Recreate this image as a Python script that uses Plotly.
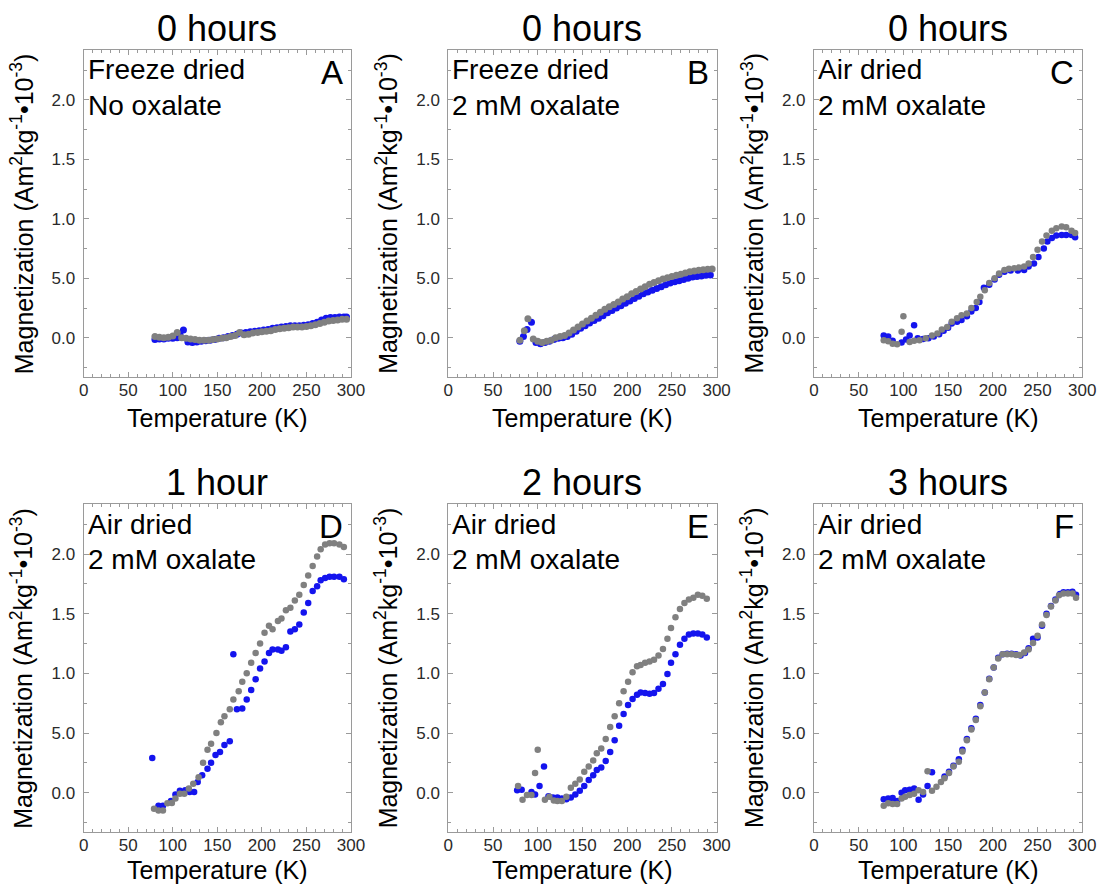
import plotly.graph_objects as go

# ---- data: temperature (K) and magnetization (x10^-3 Am^2/kg) per panel ----
# Panel A: freeze dried, no oxalate, 0 hours
a_gray_t = [80, 85, 90, 95, 100, 105, 110, 115, 120, 125, 130, 135, 140, 145, 150, 155, 160, 165,
            170, 175, 180, 185, 190, 195, 200, 205, 210, 215, 220, 225, 230, 235, 240, 245, 250,
            255, 260, 265, 270, 275, 280, 285, 290, 295]
a_gray_m = [0.01, 0.005, 0.0, 0.005, 0.015, 0.045, 0.0, -0.005, -0.01, -0.015, -0.02, -0.02, -0.02,
            -0.015, -0.01, -0.005, 0.0, 0.01, 0.02, 0.045, 0.025, 0.03, 0.04, 0.045, 0.05, 0.055,
            0.06, 0.07, 0.075, 0.08, 0.085, 0.09, 0.09, 0.09, 0.095, 0.10, 0.11, 0.12, 0.13, 0.14,
            0.145, 0.15, 0.155, 0.155]
a_blue_t = [80, 85, 90, 95, 100, 105, 108, 112, 117, 122, 127, 132, 137, 142, 147, 152, 157, 162,
            167, 172, 177, 182, 187, 192, 197, 202, 207, 212, 217, 222, 227, 232, 237, 242, 247,
            252, 257, 262, 267, 272, 277, 282, 287, 292, 295]
a_blue_m = [-0.015, -0.01, -0.01, -0.005, -0.005, 0.0, 0.03, 0.065, -0.035, -0.04, -0.035, -0.03,
            -0.025, -0.02, -0.015, -0.005, 0.0, 0.01, 0.02, 0.03, 0.04, 0.045, 0.05, 0.055, 0.06,
            0.065, 0.07, 0.08, 0.085, 0.09, 0.095, 0.1, 0.1, 0.1, 0.105, 0.11, 0.12, 0.13, 0.15,
            0.165, 0.17, 0.17, 0.175, 0.175, 0.175]

# Panel B: freeze dried, 2 mM oxalate, 0 hours
b_gray_t = [80, 85, 89, 95, 100, 105, 110, 115, 120, 125, 130, 135, 140, 145, 150, 155, 160, 165,
            170, 175, 180, 185, 190, 195, 200, 205, 210, 215, 220, 225, 230, 235, 240, 245, 250,
            255, 260, 265, 270, 275, 280, 285, 290, 295]
b_gray_m = [-0.02, 0.06, 0.16, -0.01, -0.03, -0.04, -0.03, -0.02, 0.0, 0.01, 0.02, 0.04, 0.065,
            0.09, 0.115, 0.14, 0.165, 0.19, 0.215, 0.24, 0.26, 0.28, 0.30, 0.325, 0.345, 0.37, 0.39,
            0.41, 0.43, 0.45, 0.465, 0.48, 0.495, 0.505, 0.515, 0.525, 0.535, 0.545, 0.555, 0.562,
            0.568, 0.573, 0.576, 0.578]
b_blue_t = [80, 84, 88, 93, 98, 103, 108, 113, 118, 123, 128, 133, 138, 143, 148, 153, 158, 163,
            168, 173, 178, 183, 188, 193, 198, 203, 208, 213, 218, 223, 228, 233, 238, 243, 248,
            253, 258, 263, 268, 273, 278, 283, 288, 293]
b_blue_m = [-0.03, 0.01, 0.07, 0.13, -0.04, -0.05, -0.04, -0.03, -0.015, -0.005, 0.0, 0.01, 0.03,
            0.055, 0.08, 0.10, 0.125, 0.145, 0.165, 0.185, 0.21, 0.23, 0.25, 0.27, 0.29, 0.31, 0.33,
            0.35, 0.37, 0.385, 0.40, 0.415, 0.43, 0.445, 0.46, 0.47, 0.48, 0.49, 0.50, 0.51, 0.515,
            0.52, 0.525, 0.527]

# Panel C: air dried, 2 mM oxalate, 0 hours
c_gray_t = [78, 83, 88, 93, 98, 100, 107, 112, 118, 125, 132, 138, 143, 149, 154, 160, 165, 171,
            176, 182, 186, 191, 196, 202, 207, 213, 218, 224, 229, 235, 240, 245, 250, 255, 260,
            266, 271, 277, 282, 288, 292]
c_gray_m = [-0.02, -0.03, -0.05, -0.055, 0.05, 0.18, -0.035, -0.025, -0.02, -0.005, 0.02, 0.035,
            0.07, 0.09, 0.135, 0.165, 0.19, 0.205, 0.25, 0.30, 0.345, 0.40, 0.46, 0.50, 0.54, 0.57,
            0.58, 0.585, 0.59, 0.60, 0.625, 0.68, 0.74, 0.81, 0.86, 0.90, 0.92, 0.935, 0.93, 0.90,
            0.88]
c_blue_t = [78, 83, 88, 98, 103, 107, 112, 116, 122, 128, 134, 140, 145, 150, 154, 160, 165, 171,
            176, 181, 185, 190, 196, 202, 207, 213, 220, 228, 235, 240, 246, 251, 257, 261, 266,
            271, 277, 282, 288, 292]
c_blue_m = [0.02, 0.01, -0.025, -0.04, -0.015, 0.02, 0.105, -0.005, -0.01, -0.005, 0.01, 0.03,
            0.06, 0.085, 0.12, 0.135, 0.15, 0.18, 0.22, 0.25, 0.30, 0.42, 0.445, 0.49, 0.53, 0.555,
            0.565, 0.565, 0.57, 0.60, 0.625, 0.68, 0.75, 0.81, 0.84, 0.86, 0.865, 0.865, 0.865,
            0.845]

# Panel D: air dried, 2 mM oxalate, 1 hour
d_gray_t = [79, 84, 89, 94, 99, 103, 108, 113, 118, 123, 129, 134, 139, 143, 149, 154, 158, 164,
            168, 174, 178, 183, 188, 193, 198, 203, 208, 212, 218, 222, 227, 232, 237, 242, 247,
            252, 257, 262, 266, 271, 276, 281, 287, 292]
d_gray_m = [-0.135, -0.15, -0.15, -0.09, -0.087, -0.05, -0.01, -0.01, 0.035, 0.075, 0.13, 0.25,
            0.36, 0.41, 0.50, 0.59, 0.64, 0.70, 0.78, 0.85, 0.93, 1.00, 1.09, 1.17, 1.25, 1.34, 1.40,
            1.37, 1.44, 1.46, 1.53, 1.55, 1.61, 1.66, 1.74, 1.82, 1.90, 1.98, 2.04, 2.08, 2.09, 2.09,
            2.08, 2.06]
d_blue_t = [77, 84, 89, 98, 103, 108, 114, 119, 124, 128, 133, 139, 143, 148, 153, 158, 164, 168,
            172, 178, 183, 188, 193, 198, 203, 208, 212, 218, 222, 227, 232, 237, 242, 247, 252,
            257, 262, 266, 271, 276, 281, 287, 292]
d_blue_m = [0.29, -0.11, -0.11, -0.07, -0.015, 0.015, 0.02, 0.005, 0.005, 0.09, 0.145, 0.20, 0.25,
            0.315, 0.34, 0.40, 0.43, 1.16, 0.70, 0.705, 0.78, 0.86, 0.95, 1.04, 1.10, 1.17, 1.20,
            1.20, 1.19, 1.22, 1.35, 1.37, 1.41, 1.51, 1.59, 1.69, 1.73, 1.78, 1.80, 1.81, 1.81, 1.81,
            1.79]

# Panel E: air dried, 2 mM oxalate, 2 hours
e_gray_t = [78, 83, 88, 93, 97, 100, 108, 113, 118, 122, 127, 132, 137, 142, 147, 152, 157, 162,
            166, 171, 176, 181, 186, 191, 196, 201, 206, 211, 215, 220, 225, 230, 235, 240, 245,
            249, 254, 259, 264, 269, 274, 279, 284, 289]
e_gray_m = [0.055, -0.06, -0.02, -0.02, 0.165, 0.36, -0.06, -0.035, -0.065, -0.07, -0.07, -0.035,
            0.04, 0.075, 0.11, 0.175, 0.22, 0.27, 0.33, 0.37, 0.45, 0.55, 0.64, 0.75, 0.85, 0.93,
            1.01, 1.06, 1.07, 1.09, 1.10, 1.115, 1.15, 1.205, 1.29, 1.38, 1.47, 1.54, 1.59, 1.62,
            1.635, 1.66, 1.65, 1.625]
e_blue_t = [77, 82, 93, 97, 102, 107, 112, 117, 122, 127, 132, 137, 142, 147, 152, 157, 162, 166,
            171, 176, 181, 186, 191, 196, 201, 206, 211, 215, 220, 225, 230, 235, 240, 245, 249,
            254, 259, 264, 269, 274, 279, 284, 289]
e_blue_m = [0.02, 0.025, 0.005, -0.015, 0.055, 0.22, -0.03, -0.04, -0.04, -0.05, -0.055, -0.04,
            -0.015, 0.015, 0.055, 0.105, 0.145, 0.19, 0.21, 0.265, 0.34, 0.44, 0.56, 0.66, 0.735,
            0.785, 0.82, 0.84, 0.835, 0.83, 0.835, 0.87, 0.91, 0.995, 1.09, 1.16, 1.24, 1.29, 1.325,
            1.335, 1.335, 1.325, 1.30]

# Panel F: air dried, 2 mM oxalate, 3 hours
f_gray_t = [78, 83, 88, 93, 98, 102, 107, 112, 117, 122, 127, 132, 137, 142, 146, 151, 156, 162,
            166, 171, 176, 181, 186, 191, 196, 201, 206, 211, 216, 221, 226, 230, 235, 240, 245,
            250, 255, 260, 265, 270, 274, 279, 284, 289, 293]
f_gray_m = [-0.11, -0.09, -0.095, -0.095, -0.05, -0.035, -0.02, -0.01, 0.02, 0.005, 0.18, 0.015,
            0.05, 0.09, 0.12, 0.165, 0.22, 0.26, 0.345, 0.44, 0.53, 0.61, 0.725, 0.84, 0.95, 1.05,
            1.125, 1.16, 1.16, 1.16, 1.155, 1.155, 1.175, 1.20, 1.255, 1.315, 1.41, 1.49, 1.56, 1.61,
            1.655, 1.67, 1.67, 1.67, 1.635]
f_blue_t = [78, 83, 88, 93, 98, 102, 107, 112, 117, 122, 127, 132, 146, 151, 156, 162, 166, 171,
            176, 181, 186, 191, 196, 201, 206, 211, 216, 221, 226, 231, 236, 240, 245, 250, 255,
            260, 265, 270, 275, 279, 284, 289, 293]
f_blue_m = [-0.055, -0.05, -0.045, -0.07, 0.0, 0.02, 0.025, 0.035, -0.06, -0.015, 0.055, 0.17,
            0.135, 0.175, 0.225, 0.28, 0.36, 0.45, 0.54, 0.62, 0.735, 0.84, 0.955, 1.05, 1.13, 1.16,
            1.165, 1.165, 1.16, 1.15, 1.17, 1.21, 1.29, 1.30, 1.40, 1.50, 1.565, 1.62, 1.665, 1.68,
            1.68, 1.685, 1.66]

panel_titles = ["0 hours", "0 hours", "0 hours", "1 hour", "2 hours", "3 hours"]
panel_letters = ["A", "B", "C", "D", "E", "F"]
panel_labels = [("Freeze dried", "No oxalate"), ("Freeze dried", "2 mM oxalate"),
                ("Air dried", "2 mM oxalate"), ("Air dried", "2 mM oxalate"),
                ("Air dried", "2 mM oxalate"), ("Air dried", "2 mM oxalate")]
y_tick_vals = [0.0, 0.5, 1.0, 1.5, 2.0]
y_tick_text = ["0.0", "5.0", "1.0", "1.5", "2.0"]
x_tick_vals = [0, 50, 100, 150, 200, 250, 300]
x_title = "Temperature (K)"
y_title = "Magnetization (Am<sup>2</sup>kg<sup>-1</sup>•10<sup>-3</sup>)"

series = [
    (a_blue_t, a_blue_m, a_gray_t, a_gray_m),
    (b_blue_t, b_blue_m, b_gray_t, b_gray_m),
    (c_blue_t, c_blue_m, c_gray_t, c_gray_m),
    (d_blue_t, d_blue_m, d_gray_t, d_gray_m),
    (e_blue_t, e_blue_m, e_gray_t, e_gray_m),
    (f_blue_t, f_blue_m, f_gray_t, f_gray_m),
]

# ---- layout geometry (pixels) ----
W, H = 1112, 884
col_px = [(80, 352), (451, 724), (823, 1096)]
row_px = [(50, 377), (504, 832)]
xtitle_gap = [41, 38]

FONT = "Liberation Sans, Arial, sans-serif"
BLUE = "#1414ee"
GRAY = "#808080"
FRAME = "#9a9a9a"

fig = go.Figure()
annotations = []
layout = {}

for i, (bt, bm, gt, gm) in enumerate(series):
    r, c = divmod(i, 3)
    x0, x1 = col_px[c]
    top, bot = row_px[r]
    n = "" if i == 0 else str(i + 1)
    xa, ya = "x" + n, "y" + n
    msize = 7 if r == 0 and c < 2 else 6.5
    fig.add_trace(go.Scatter(x=bt, y=bm, mode="markers", xaxis=xa, yaxis=ya,
                             marker=dict(color=BLUE, size=msize, line=dict(width=0)),
                             showlegend=False, cliponaxis=False))
    fig.add_trace(go.Scatter(x=gt, y=gm, mode="markers", xaxis=xa, yaxis=ya,
                             marker=dict(color=GRAY, size=msize, line=dict(width=0)),
                             showlegend=False, cliponaxis=False))

    layout["xaxis" + n] = dict(
        domain=[x0 / W, x1 / W], anchor=ya, range=[0, 300],
        tickvals=x_tick_vals, ticks="inside", ticklen=5, tickcolor=FRAME, tickwidth=1,
        minor=dict(dtick=10, tick0=0, ticks="inside", ticklen=3, tickcolor=FRAME, tickwidth=1),
        showline=True, linecolor=FRAME, linewidth=1, mirror="allticks",
        showgrid=False, zeroline=False, ticklabelstandoff=-2,
        tickfont=dict(family=FONT, size=17, color="#2a2a2a"),
    )
    layout["yaxis" + n] = dict(
        domain=[1 - bot / H, 1 - top / H], anchor=xa, range=[-0.33, 2.42],
        tickvals=y_tick_vals, ticktext=y_tick_text,
        ticks="inside", ticklen=5, tickcolor=FRAME, tickwidth=1,
        minor=dict(dtick=0.25, tick0=0, ticks="inside", ticklen=3, tickcolor=FRAME, tickwidth=1),
        showline=True, linecolor=FRAME, linewidth=1, mirror="allticks",
        showgrid=False, zeroline=False, ticklabelstandoff=4,
        tickfont=dict(family=FONT, size=17, color="#2a2a2a"),
    )

    cx = (x0 + x1) / 2 / W
    # panel title
    annotations.append(dict(text=panel_titles[i], x=cx, y=1 - (top - 21) / H,
                            xref="paper", yref="paper", xanchor="center", yanchor="middle",
                            showarrow=False, font=dict(family=FONT, size=36, color="black")))
    # condition labels
    for k, line in enumerate(panel_labels[i]):
        annotations.append(dict(text=line, x=(x0 + 2) / W, y=1 - (top + 20 + 35 * k) / H,
                                xref="paper", yref="paper", xanchor="left", yanchor="middle",
                                showarrow=False, font=dict(family=FONT, size=28, color="black")))
    # panel letter
    annotations.append(dict(text=panel_letters[i], x=(x1 - 6) / W, y=1 - (top + 22) / H,
                            xref="paper", yref="paper", xanchor="right", yanchor="middle",
                            showarrow=False, font=dict(family=FONT, size=33, color="black")))
    # axis titles
    annotations.append(dict(text=x_title, x=cx, y=1 - (bot + xtitle_gap[r]) / H,
                            xref="paper", yref="paper", xanchor="center", yanchor="middle",
                            showarrow=False, font=dict(family=FONT, size=25, color="black")))
    annotations.append(dict(text=y_title, x=(x0 - 63) / W, y=1 - (top + bot) / 2 / H,
                            xref="paper", yref="paper", xanchor="center", yanchor="middle",
                            textangle=-90, showarrow=False,
                            font=dict(family=FONT, size=25, color="black")))

fig.update_layout(
    width=W, height=H, margin=dict(l=0, r=0, t=0, b=0),
    paper_bgcolor="white", plot_bgcolor="white",
    annotations=annotations, **layout,
)

fig.write_html("out.html")
